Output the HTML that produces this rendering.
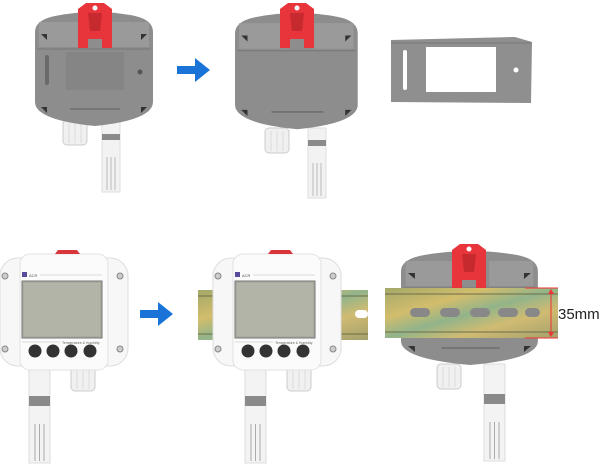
<!DOCTYPE html>
<html><head><meta charset="utf-8"><style>
html,body{margin:0;padding:0;background:#fff;width:605px;height:470px;overflow:hidden}
svg{display:block}
text{font-family:"Liberation Sans",sans-serif}
</style></head><body>
<svg width="605" height="470" viewBox="0 0 605 470" xmlns="http://www.w3.org/2000/svg">
<defs>
<linearGradient id="rail" x1="0" y1="0" x2="1" y2="1">
<stop offset="0" stop-color="#a3a86a"/><stop offset="0.3" stop-color="#d2bd6c"/><stop offset="0.5" stop-color="#92b48a"/><stop offset="0.7" stop-color="#d0bb72"/><stop offset="1" stop-color="#a4a06c"/>
</linearGradient>
<g id="probe">
<rect x="0" y="0" width="18" height="70" fill="#f2f2f2" stroke="#ddd"/>
<rect x="0" y="12" width="18" height="6" fill="#8a8a8a"/>
<line x1="5" y1="35" x2="5" y2="68" stroke="#bbb"/><line x1="9" y1="35" x2="9" y2="68" stroke="#bbb"/><line x1="13" y1="35" x2="13" y2="68" stroke="#bbb"/>
</g>
<g id="lprobe">
<rect x="0" y="0" width="21" height="97" fill="#f3f3f3" stroke="#ddd"/>
<rect x="0" y="30" width="21" height="10" fill="#8a8a8a"/>
<line x1="6" y1="58" x2="6" y2="95" stroke="#aaa"/><line x1="10.5" y1="58" x2="10.5" y2="95" stroke="#aaa"/><line x1="15" y1="58" x2="15" y2="95" stroke="#aaa"/>
</g>
<g id="gland"><rect x="0" y="0" width="24" height="25" rx="4" fill="#f0f0f0" stroke="#ccc"/><line x1="6" y1="3" x2="6" y2="23" stroke="#ddd"/><line x1="12" y1="3" x2="12" y2="23" stroke="#ddd"/><line x1="18" y1="3" x2="18" y2="23" stroke="#ddd"/></g>
<g id="clip"><path d="M0 6 L8 0 L26 0 L34 6 L34 45 L24 45 L24 36 L10 36 L10 45 L0 45 Z" fill="#e8353b"/><path d="M10 10 L24 10 L22 28 L12 28 Z" fill="#c62a2f"/><circle cx="17" cy="5" r="2.5" fill="#fff"/></g>
<g id="arrow"><path d="M0 8 L18 8 L18 0 L33 12 L18 24 L18 16 L0 16 Z" fill="#1a74d8"/></g>
<g id="front">
<rect x="0" y="8" width="128" height="108" rx="18" fill="#f7f7f7" stroke="#ddd"/>
<rect x="20" y="4" width="88" height="116" rx="10" fill="#fbfbfb" stroke="#e2e2e2"/>
<rect x="22" y="31" width="80" height="57" fill="#a9ab9f" stroke="#777"/>
<rect x="24" y="33" width="76" height="53" fill="#b2b4a8"/>
<rect x="22" y="22" width="5" height="5" fill="#5a4a9a"/><text x="29" y="27" font-size="4" fill="#555">ACR</text>
<line x1="40" y1="25" x2="102" y2="25" stroke="#bbb" stroke-width="0.6"/>
<line x1="22" y1="92" x2="60" y2="92" stroke="#bbb" stroke-width="0.6"/>
<text x="62" y="94" font-size="3.5" fill="#666">Temperature &amp; Humidity</text>
<circle cx="35" cy="101" r="6.5" fill="#333"/><circle cx="53" cy="101" r="6.5" fill="#333"/><circle cx="71" cy="101" r="6.5" fill="#333"/><circle cx="90" cy="101" r="6.5" fill="#333"/>
<circle cx="5" cy="26" r="3" fill="#ccc" stroke="#888"/><circle cx="120" cy="26" r="3" fill="#ccc" stroke="#888"/>
<circle cx="5" cy="99" r="3" fill="#ccc" stroke="#888"/><circle cx="120" cy="99" r="3" fill="#ccc" stroke="#888"/>
<path d="M55 4 L58 0 L77 0 L80 4 Z" fill="#d9363c"/>
</g>
<g id="back">
<path d="M0 20 Q0 8 20 4 Q60 -4 100 4 Q118 8 118 20 L118 90 Q118 108 60 114 Q0 108 0 90 Z" fill="#8d8d8d"/>
<rect x="4" y="10" width="40" height="25" fill="#9a9a9a"/><rect x="76" y="10" width="38" height="25" fill="#9a9a9a"/>
<line x1="2" y1="37" x2="116" y2="37" stroke="#777"/>
<path d="M6 22 L12 22 L12 28 Z M112 22 L106 22 L106 28 Z M6 95 L12 95 L12 101 Z M112 95 L106 95 L106 101 Z" fill="#333"/>
<line x1="35" y1="97" x2="85" y2="97" stroke="#6f6f6f" stroke-width="1.5"/>
</g>
</defs>

<!-- Top row -->
<use href="#probe" x="102" y="122"/>
<use href="#gland" x="63" y="120"/>
<use href="#back" x="35" y="12"/>
<rect x="66" y="52" width="58" height="38" fill="#858585"/>
<rect x="45" y="55" width="4" height="30" rx="2" fill="#6a6a6a"/>
<circle cx="140" cy="72" r="2.5" fill="#555"/>
<use href="#clip" x="78" y="3"/>

<use href="#arrow" x="177" y="58"/>

<use href="#probe" x="308" y="128"/>
<use href="#gland" x="265" y="128"/>
<g transform="translate(235,13) scale(1.04,1.02)"><use href="#back"/></g>
<use href="#clip" x="280" y="3"/>

<path d="M391 40 L515 37 L532 42 L531 103 L391 102 Z" fill="#8f8f8f"/>
<line x1="391" y1="43" x2="531" y2="43" stroke="#777"/>
<rect x="426" y="47" width="70" height="45" fill="#fff"/>
<rect x="403" y="50" width="4" height="40" rx="2" fill="#fff"/>
<circle cx="516" cy="70" r="2.5" fill="#fff"/>

<!-- Bottom row -->
<use href="#lprobe" x="29" y="366"/>
<use href="#gland" x="71" y="366"/>
<use href="#front" x="0" y="250"/>

<use href="#arrow" x="140" y="302"/>

<rect x="198" y="290" width="170" height="50" fill="url(#rail)"/>
<line x1="198" y1="296" x2="368" y2="296" stroke="#6d6d4a"/><line x1="198" y1="334" x2="368" y2="334" stroke="#6d6d4a"/>
<rect x="355" y="310" width="13" height="8" rx="4" fill="#fff"/>
<use href="#lprobe" x="245" y="366"/>
<use href="#gland" x="287" y="366"/>
<use href="#front" x="213" y="250"/>

<use href="#lprobe" x="484" y="364"/>
<use href="#gland" x="437" y="364"/>
<g transform="translate(401,251) scale(1.16,1.0)"><use href="#back"/></g>
<use href="#clip" x="452" y="244"/>
<rect x="385" y="288" width="173" height="50" fill="url(#rail)"/>
<line x1="385" y1="294" x2="558" y2="294" stroke="#6d6d4a"/><line x1="385" y1="332" x2="558" y2="332" stroke="#6d6d4a"/>
<rect x="410" y="308" width="20" height="9" rx="4.5" fill="#888"/><rect x="440" y="308" width="20" height="9" rx="4.5" fill="#888"/><rect x="470" y="308" width="20" height="9" rx="4.5" fill="#888"/><rect x="498" y="308" width="20" height="9" rx="4.5" fill="#888"/><rect x="525" y="308" width="15" height="9" rx="4.5" fill="#888"/>
<line x1="525" y1="288" x2="558" y2="288" stroke="#e33"/><line x1="525" y1="338" x2="558" y2="338" stroke="#e33"/>
<line x1="551" y1="290" x2="551" y2="336" stroke="#e33"/>
<path d="M548 294 L551 289 L554 294 Z M548 332 L551 337 L554 332 Z" fill="#e33"/>
<text x="558" y="319" font-size="15" fill="#222">35mm</text>
</svg>
</body></html>
